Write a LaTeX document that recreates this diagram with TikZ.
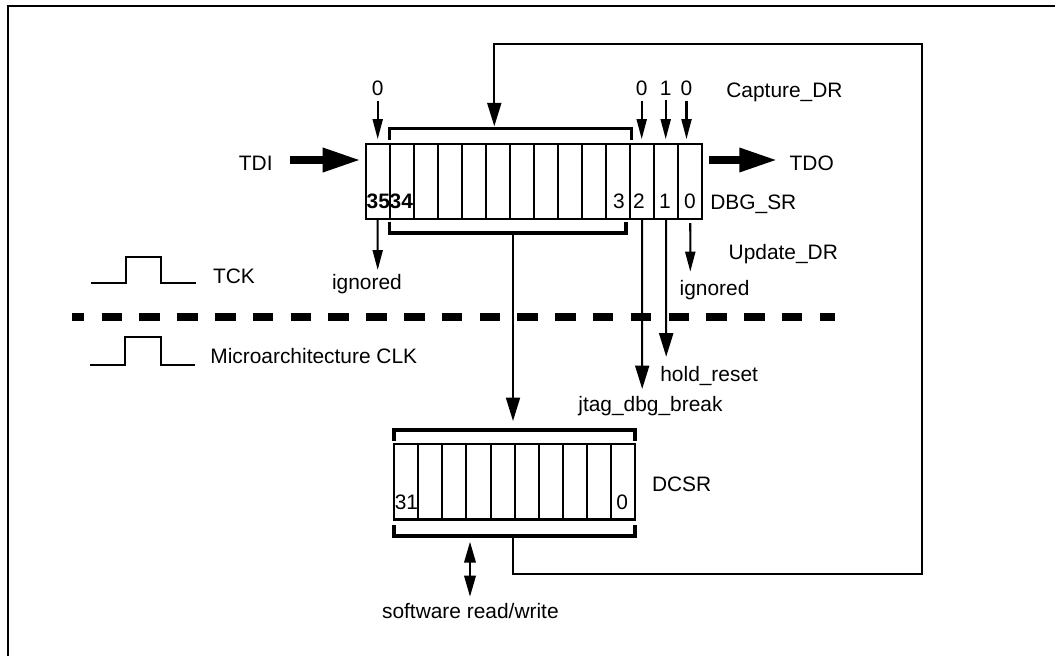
\documentclass[tikz,border=0pt]{standalone}
\usepackage{fontspec}
\setmainfont{Liberation Sans}
\usetikzlibrary{arrows.meta,positioning}
\tikzset{
  cell/.style={draw, line width=1.15pt, inner sep=0pt, minimum width=0.481cm, minimum height=1.512cm},
  bracket/.style={line width=1.9pt},
  wire/.style={line width=1.15pt},
  txt/.style={inner sep=0pt, font=\fontsize{11.9}{14}\selectfont},
  smallarrow/.style={wire, -{Triangle[length=0.4cm,width=0.2cm]}},
  bigarrow/.style={wire, -{Triangle[length=0.47cm,width=0.28cm]}},
  duplexarrow/.style={wire, {Triangle[length=0.42cm,width=0.23cm]}-{Triangle[length=0.42cm,width=0.23cm]}},
  fatarrow/.style={line width=5pt, -{Triangle[length=0.78cm,width=0.44cm]}},
  clock/.style={line width=1.3pt},
  divider/.style={line width=4.5pt, dash pattern=on 0.41cm off 0.346cm, dash phase=0.162cm}
}
\begin{document}
\begin{tikzpicture}[x=0.02cm, y=-0.02cm]
    \useasboundingbox (0,0) rectangle (1055,656);

    % page frame
    \draw[wire] (8.2,656) -- (8.2,6.3) -- (1055,6.3);

    % DBG_SR cells
    \foreach \k in {0,...,13}
      \node[cell] (s\k) at ({365.7+24.04*(\k+0.5)},181.4) {};

    % DCSR cells
    \foreach \k in {0,...,9}
      \node[cell, minimum width=0.4826cm] (d\k) at ({394+24.13*(\k+0.5)},481.7) {};

    % brackets
    \draw[bracket] (389.3,140) -- (389.3,128.3) -- (631.7,128.3) -- (631.7,140);
    \draw[bracket] (389.3,221.7) -- (389.3,233) -- (626,233) -- (626,221.7);
    \draw[bracket] (394,440.7) -- (394,430) -- (635,430) -- (635,440.7);
    \draw[bracket] (394,525.3) -- (394,536) -- (635,536) -- (635,525.3);
    \coordinate (srtop) at (494.3,128.3);
    \coordinate (srbot) at (513,233);
    \coordinate (dctop) at (513,430);
    \coordinate (dcbot) at (513,536);
    \coordinate (loopR) at (922.3,574.3);
    \coordinate (loopT) at (494.3,44.3);

    % bit numbers
    \node[txt, anchor=base west, font=\fontsize{11.9}{14}\selectfont\bfseries] (n35) at (366.3,208) {35};
    \node[txt, anchor=base west, font=\fontsize{11.9}{14}\selectfont\bfseries] (n34) at (389.3,208) {34};
    \node[txt, anchor=base] (n3) at (619,208) {3};
    \node[txt, anchor=base] (n2) at (639,208) {2};
    \node[txt, anchor=base] (n1) at (665,208) {1};
    \node[txt, anchor=base] (n0) at (690,208) {0};
    \node[txt, anchor=base west] (m31) at (394.5,509.3) {31};
    \node[txt, anchor=base] (m0) at (622.3,509.3) {0};

    % captured values
    \node[txt, anchor=base] (z35) at (377.7,95) {0};
    \node[txt, anchor=base] (z2) at (641.7,95) {0};
    \node[txt, anchor=base] (z1) at (665.7,95) {1};
    \node[txt, anchor=base] (z0) at (686.5,95) {0};
    \foreach \z/\s in {z35/s0, z2/s11, z1/s12, z0/s13}
      \draw[smallarrow, shorten <=0.1cm, shorten >=0.07cm] (\z.south) -- (\z.south |- \s.north);

    % labels
    \node[txt, anchor=base west] (cap) at (726,97) {Capture\_DR};
    \node[txt, anchor=base east] (tdi) at (273,170) {TDI};
    \node[txt, anchor=base west] (tdo) at (789.3,170) {TDO};
    \node[txt, anchor=base west] (dbgsr) at (710,209) {DBG\_SR};
    \node[txt, anchor=base west] (upd) at (728.3,259.3) {Update\_DR};
    \node[txt, anchor=base west] (ignL) at (331.7,289) {ignored};
    \node[txt, anchor=base west] (ignR) at (679.3,295) {ignored};
    \node[txt, anchor=base west] (tck) at (212.7,283.3) {TCK};
    \node[txt, anchor=base west] (uclk) at (210,363.3) {Microarchitecture CLK};
    \node[txt, anchor=base west] (hold) at (660,381) {hold\_reset};
    \node[txt, anchor=base west] (jtag) at (578,411.7) {jtag\_dbg\_break};
    \node[txt, anchor=base west] (dcsr) at (651.7,491.7) {DCSR};
    \node[txt, anchor=base west] (sw) at (381.7,618.3) {software read/write};

    % TDI / TDO
    \coordinate (tdiin) at (361.7,160);
    \coordinate (tdoout) at (778.3,160);
    \draw[fatarrow] (tdi.east |- tdiin) ++(17,0) -- (tdiin);
    \draw[fatarrow] (s13.east |- tdoout) ++(6,0) -- (tdoout);

    % clocks
    \draw[clock] (91,283.3) -- (126,283.3) -- (126,257.3) -- (160.7,257.3) -- (160.7,283.3) -- (195.7,283.3);
    \draw[clock] (90,365) -- (125,365) -- (125,336.7) -- (161,336.7) -- (161,365) -- (195,365);

    % clock domain divider
    \draw[divider] (72,317.3) -- (835,317.3);

    % outputs of DBG_SR
    \coordinate (t35) at (377.7,270);
    \coordinate (t2) at (642.2,389);
    \coordinate (t1) at (666.2,356.7);
    \coordinate (t0) at (690.3,271.7);
    \draw[smallarrow] (s0.south) -- (t35);
    \draw[bigarrow] (s11.south) -- (t2);
    \draw[bigarrow] (s12.south) -- (t1);
    \draw[smallarrow, shorten <=0.06cm] (s13.south) -- (t0);

    % DBG_SR <-> DCSR
    \draw[bigarrow, shorten >=0.18cm] (srbot) -- (dctop);
    \draw[bigarrow, shorten >=0.04cm] (dcbot) |- (loopR) |- (loopT) -- (srtop);

    % software access
    \coordinate (sw1) at (470,541.7);
    \coordinate (sw2) at (470,596.7);
    \draw[duplexarrow] (sw1) -- (sw2);
\end{tikzpicture}
\end{document}
